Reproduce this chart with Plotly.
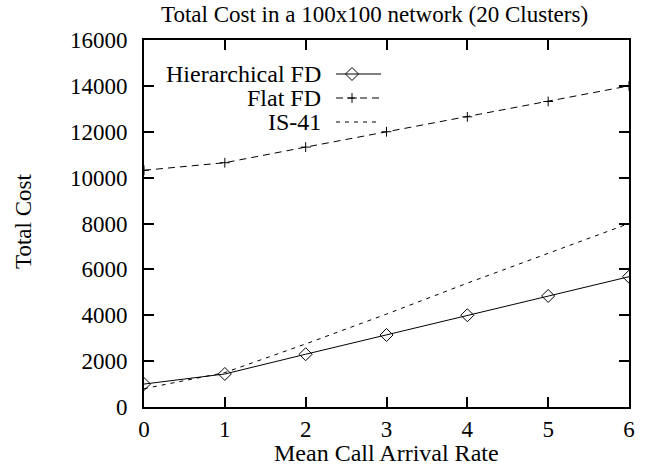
import plotly.graph_objects as go

rate = [0, 1, 2, 3, 4, 5, 6]
hier_fd = [1000, 1440, 2300, 3140, 4000, 4840, 5680]
flat_fd = [10320, 10650, 11330, 12000, 12650, 13320, 14000]
is41 = [800, 1500, 2750, 4050, 5400, 6700, 8000]

names = ["Hierarchical FD", "Flat FD", "IS-41"]
dashes = ["solid", "7px,5px", "4px,5px"]
symbols = ["diamond-open", "cross-thin-open", None]
msizes = [10, 7, 0]
series = [hier_fd, flat_fd, is41]

FONT = "Liberation Serif, Times New Roman, serif"
FS = 23

W, H = 647, 466
L, T, PW, PH = 144, 40, 485, 367

fig = go.Figure()
for name, ys, dash, sym, ms in zip(names, series, dashes, symbols, msizes):
    fig.add_trace(go.Scatter(
        x=rate, y=ys, name=name,
        mode="lines+markers" if sym else "lines",
        line=dict(color="black", width=1, dash=dash),
        marker=dict(symbol=sym or "circle", size=ms or 1, color="black",
                    line=dict(color="black", width=1)),
        showlegend=False,
    ))

# custom legend (text right-aligned, sample on the right), pixel-like overlay axes
leg_y = [74, 98, 122]
for name, dash, sym, ms, ly in zip(names, dashes, symbols, msizes, leg_y):
    fig.add_trace(go.Scatter(
        x=[336, 381], y=[ly, ly], mode="lines", xaxis="x2", yaxis="y2",
        line=dict(color="black", width=1, dash=dash), showlegend=False,
        hoverinfo="skip",
    ))
    if sym:
        fig.add_trace(go.Scatter(
            x=[352], y=[ly], mode="markers", xaxis="x2", yaxis="y2",
            marker=dict(symbol=sym, size=ms, color="black",
                        line=dict(color="black", width=1)),
            showlegend=False, hoverinfo="skip",
        ))
    fig.add_annotation(x=323, y=ly, xref="x2", yref="y2", text=name,
                       showarrow=False, xanchor="right", yanchor="middle",
                       font=dict(family=FONT, size=24, color="black"))

def px_x(p):
    return (p - L) / PW

def px_y(p):
    return (T + PH - p) / PH

fig.add_annotation(x=px_x(374), y=px_y(14), xref="paper", yref="paper",
                   text="Total Cost in a 100x100 network (20 Clusters)",
                   showarrow=False, xanchor="center", yanchor="middle",
                   font=dict(family=FONT, size=FS, color="black"))
fig.add_annotation(x=px_x(386.5), y=px_y(453), xref="paper", yref="paper",
                   text="Mean Call Arrival Rate",
                   showarrow=False, xanchor="center", yanchor="middle",
                   font=dict(family=FONT, size=24, color="black"))
fig.add_annotation(x=px_x(23), y=px_y(222), xref="paper", yref="paper",
                   text="Total Cost", textangle=-90,
                   showarrow=False, xanchor="center", yanchor="middle",
                   font=dict(family=FONT, size=FS, color="black"))

axis_common = dict(
    showline=True, linecolor="black", linewidth=2, mirror="ticks",
    ticks="inside", ticklen=10, tickwidth=1.5, tickcolor="black",
    showgrid=False, zeroline=False, tickformat="d",
    tickfont=dict(family=FONT, size=FS, color="black"),
)

fig.update_layout(
    width=W, height=H,
    margin=dict(l=L, r=W - L - PW, t=T, b=H - T - PH),
    paper_bgcolor="white", plot_bgcolor="white",
    xaxis=dict(range=[0, 6], dtick=1, **axis_common),
    yaxis=dict(range=[0, 16000], dtick=2000, ticklabelstandoff=10, **axis_common),
    xaxis2=dict(overlaying="x", range=[L, L + PW], visible=False),
    yaxis2=dict(overlaying="y", range=[T + PH, T], visible=False),
)

fig.write_html(
    "out.html",
    config={"displayModeBar": False},
    post_script="document.body.style.margin='0';document.body.style.overflow='hidden';",
)
